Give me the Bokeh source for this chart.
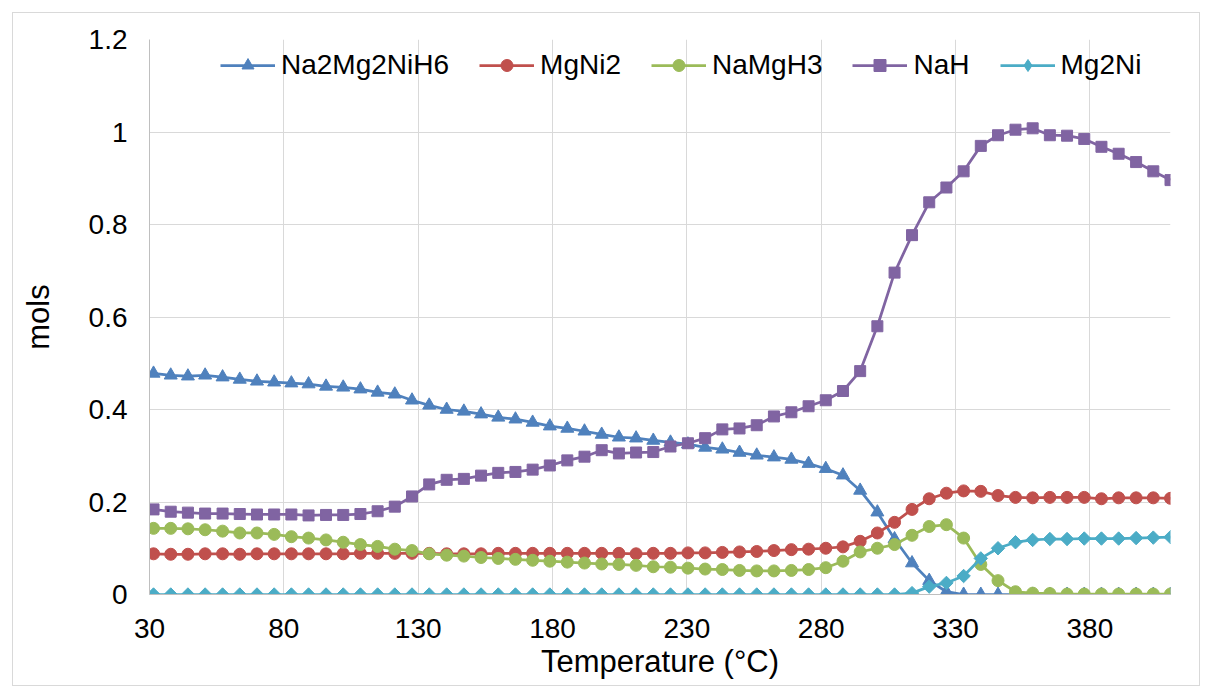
import math
from bokeh.plotting import figure
from bokeh.models import (Range1d, FixedTicker, NumeralTickFormatter, Legend,
                          LegendItem, ColumnDataSource)
from bokeh.embed import file_html
from bokeh.resources import INLINE

# ---------------- data ----------------
temperature = [31.5, 37.9, 44.3, 50.7, 57.2, 63.6, 70.0, 76.4, 82.8, 89.2,
               95.7, 102.1, 108.5, 114.9, 121.3, 127.7, 134.1, 140.6, 147.0, 153.4,
               159.8, 166.2, 172.6, 179.0, 185.5, 191.9, 198.3, 204.7, 211.1, 217.5,
               223.9, 230.4, 236.8, 243.2, 249.6, 256.0, 262.4, 268.9, 275.3, 281.7,
               288.1, 294.5, 300.9, 307.3, 313.8, 320.2, 326.6, 333.0, 339.4, 345.8,
               352.3, 358.7, 365.1, 371.5, 377.9, 384.3, 390.7, 397.2, 403.6, 410.0]

na2mg2nih6 = [0.478, 0.474, 0.472, 0.474, 0.470, 0.465, 0.461, 0.459, 0.457, 0.455,
              0.450, 0.448, 0.444, 0.437, 0.433, 0.420, 0.409, 0.400, 0.396, 0.390,
              0.383, 0.379, 0.372, 0.364, 0.359, 0.353, 0.346, 0.340, 0.338, 0.333,
              0.329, 0.325, 0.318, 0.314, 0.307, 0.301, 0.297, 0.292, 0.283, 0.272,
              0.258, 0.225, 0.178, 0.120, 0.068, 0.030, 0.006, 0.0, 0.0, 0.0,
              0.0, 0.0, 0.0, 0.0, 0.0, 0.0, 0.0, 0.0, 0.0, 0.0]

mgni2 = [0.088, 0.087, 0.087, 0.088, 0.088, 0.087, 0.088, 0.088, 0.088, 0.088,
         0.088, 0.088, 0.089, 0.089, 0.089, 0.089, 0.089, 0.088, 0.088, 0.088,
         0.089, 0.089, 0.089, 0.089, 0.089, 0.089, 0.089, 0.089, 0.088, 0.089,
         0.089, 0.090, 0.090, 0.091, 0.092, 0.093, 0.095, 0.097, 0.098, 0.100,
         0.103, 0.115, 0.133, 0.156, 0.184, 0.207, 0.219, 0.224, 0.223, 0.214,
         0.210, 0.209, 0.210, 0.210, 0.210, 0.207, 0.209, 0.209, 0.209, 0.208]

namgh3 = [0.143, 0.143, 0.142, 0.140, 0.137, 0.133, 0.133, 0.130, 0.125, 0.122,
          0.118, 0.113, 0.108, 0.104, 0.098, 0.095, 0.088, 0.085, 0.083, 0.080,
          0.078, 0.076, 0.074, 0.072, 0.070, 0.068, 0.066, 0.065, 0.063, 0.060,
          0.059, 0.057, 0.055, 0.054, 0.052, 0.051, 0.051, 0.052, 0.054, 0.058,
          0.072, 0.092, 0.100, 0.108, 0.128, 0.147, 0.151, 0.122, 0.065, 0.030,
          0.006, 0.003, 0.002, 0.001, 0.001, 0.001, 0.001, 0.001, 0.001, 0.001]

nah = [0.184, 0.179, 0.177, 0.175, 0.175, 0.174, 0.173, 0.173, 0.173, 0.171,
       0.172, 0.172, 0.174, 0.180, 0.190, 0.212, 0.238, 0.248, 0.250, 0.257,
       0.263, 0.265, 0.270, 0.279, 0.290, 0.298, 0.312, 0.305, 0.307, 0.308,
       0.320, 0.327, 0.338, 0.357, 0.359, 0.366, 0.385, 0.394, 0.407, 0.420,
       0.440, 0.483, 0.580, 0.696, 0.777, 0.848, 0.880, 0.915, 0.970, 0.993,
       1.005, 1.008, 0.993, 0.992, 0.985, 0.968, 0.953, 0.935, 0.915, 0.896]

mg2ni = [0.0, 0.0, 0.0, 0.0, 0.0, 0.0, 0.0, 0.0, 0.0, 0.0,
         0.0, 0.0, 0.0, 0.0, 0.0, 0.0, 0.0, 0.0, 0.0, 0.0,
         0.0, 0.0, 0.0, 0.0, 0.0, 0.0, 0.0, 0.0, 0.0, 0.0,
         0.0, 0.0, 0.0, 0.0, 0.0, 0.0, 0.0, 0.0, 0.0, 0.0,
         0.0, 0.0, 0.0, 0.0, 0.003, 0.017, 0.025, 0.040, 0.078, 0.100,
         0.113, 0.118, 0.120, 0.120, 0.121, 0.121, 0.121, 0.122, 0.123, 0.124]

series_names = ["Na2Mg2NiH6", "MgNi2", "NaMgH3", "NaH", "Mg2Ni"]
x_ticks = [30, 80, 130, 180, 230, 280, 330, 380]
y_ticks = [0, 0.2, 0.4, 0.6, 0.8, 1.0, 1.2]

# ---------------- figure ----------------
FONT = "Liberation Sans"

p = figure(width=1188, height=674, output_backend="svg", toolbar_location=None,
           x_range=Range1d(30, 410), y_range=Range1d(0, 1.2),
           min_border_left=136, min_border_right=31, min_border_top=26,
           min_border_bottom=93, margin=(12, 0, 0, 12),
           styles={"border": "1px solid #d9d9d9"})
p.outline_line_color = None
p.background_fill_color = "white"
p.border_fill_color = "white"

src = ColumnDataSource(data=dict(t=temperature, a=na2mg2nih6, b=mgni2,
                                 c=namgh3, d=nah, e=mg2ni))

styles = [
    ("a", "#4F81BD", "triangle", 13, 0.0),
    ("b", "#C0504D", "circle", 12, 0.0),
    ("c", "#9BBB59", "circle", 12, 0.0),
    ("d", "#8064A2", "square", 11, 0.0),
    ("e", "#4BACC6", "square", 9.5, math.pi / 4),
]

items = []
for name, (col, color, marker, size, ang) in zip(series_names, styles):
    lr = p.line("t", col, source=src, line_color=color, line_width=2.75)
    sr = p.scatter("t", col, source=src, marker=marker, size=size, angle=ang,
                   fill_color=color, line_color=color)
    if ang:
        # legend markers are drawn unrotated, so give the legend a diamond
        sr = p.scatter("t", col, source=src, marker="diamond", size=0,
                       fill_color=color, line_color=color)
    items.append(LegendItem(label=name, renderers=[lr, sr]))

legend = Legend(items=items, orientation="horizontal", location=(71, 513),
                glyph_width=55, glyph_height=30, label_standoff=6, spacing=30,
                padding=0, margin=0, border_line_color=None,
                background_fill_alpha=0.0, label_text_font=FONT,
                label_text_font_size="28px", label_text_color="#000000")
p.add_layout(legend)

# axes
p.xaxis.ticker = FixedTicker(ticks=x_ticks)
p.yaxis.ticker = FixedTicker(ticks=y_ticks)
p.yaxis.formatter = NumeralTickFormatter(format="0.[0]")
for ax in (p.xaxis[0], p.yaxis[0]):
    ax.axis_line_color = "#bfbfbf"
    ax.axis_line_width = 1
    ax.major_tick_line_color = None
    ax.minor_tick_line_color = None
    ax.major_tick_out = 0
    ax.major_tick_in = 0
    ax.major_label_text_font = FONT
    ax.major_label_text_font_size = "28px"
    ax.major_label_text_color = "#000000"
    ax.axis_label_text_font = FONT
    ax.axis_label_text_font_size = "31px"
    ax.axis_label_text_font_style = "normal"
    ax.axis_label_text_color = "#000000"

p.xaxis.axis_label = "Temperature (°C)"
p.yaxis.axis_label = "mols"
p.xaxis.major_label_standoff = 24
p.xaxis.axis_label_standoff = 3
p.yaxis.major_label_standoff = 22
p.yaxis.axis_label_standoff = 30

p.xgrid.ticker = FixedTicker(ticks=x_ticks)
p.ygrid.ticker = FixedTicker(ticks=y_ticks)
p.xgrid.grid_line_color = "#d9d9d9"
p.ygrid.grid_line_color = "#d9d9d9"
p.xgrid.grid_line_width = 1
p.ygrid.grid_line_width = 1

open("out.html", "w").write(file_html(p, INLINE))
